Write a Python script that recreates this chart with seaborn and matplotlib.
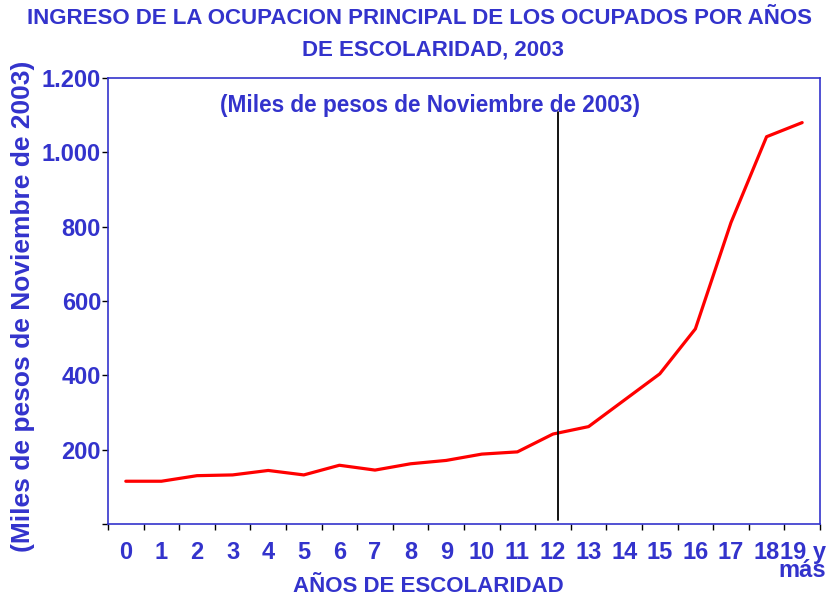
import numpy as np
import pandas as pd
import matplotlib
matplotlib.use("Agg")
import matplotlib.pyplot as plt
import matplotlib.ticker as mtick
import seaborn as sns

# datos
anos = list(range(20))
etiquetas = [str(i) for i in range(19)] + ["19 y\nmás"]
ingreso = [115, 115, 130, 132, 144, 132, 158, 145, 162, 171,
           188, 194, 242, 262, 333, 404, 525, 811, 1042, 1080]
corte_x = 12.15
corte_y = [10, 1108]

azul = "#3333CC"

sns.set_theme(style="white")
plt.rcParams['font.family'] = ['Liberation Sans', 'DejaVu Sans']

df = pd.DataFrame({"anos": anos, "ingreso": ingreso})

fig = plt.figure(figsize=(8.27, 6), dpi=100)
ax = fig.add_axes([0.1306, 0.1267, 0.8609, 0.7433])

sns.lineplot(data=df, x="anos", y="ingreso", color="red", linewidth=2.3, ax=ax)
ax.plot([corte_x, corte_x], corte_y, color="black", linewidth=1.3)

ax.set_xlim(-0.5, 19.5)
ax.set_ylim(0, 1200)

ax.set_xticks(anos)
ax.set_xticklabels(etiquetas)
ax.set_xticks(np.arange(-0.5, 20, 1), minor=True)
ax.tick_params(axis="x", which="major", length=0, pad=12,
               labelsize=17, labelcolor=azul)
ax.tick_params(axis="x", which="minor", length=4, width=1, color="black",
               direction="out", bottom=True)
for lab in ax.get_xticklabels():
    lab.set_fontweight("bold")
    lab.set_verticalalignment("top")
    lab.set_multialignment("right")
    lab.set_linespacing(0.75)

ax.set_yticks(range(0, 1201, 200))
ax.yaxis.set_major_formatter(
    mtick.FuncFormatter(lambda v, p: "" if v == 0 else f"{int(v):,}".replace(",", ".")))
ax.tick_params(axis="y", length=4, width=1, color="black", direction="out",
               left=True, pad=1, labelsize=17, labelcolor=azul)
for lab in ax.get_yticklabels():
    lab.set_fontweight("bold")

for s in ax.spines.values():
    s.set_color(azul)
    s.set_linewidth(1.2)

ax.set_xlabel("")
ax.set_ylabel("(Miles de pesos de Noviembre de 2003)", fontsize=19,
              fontweight="bold", color=azul)
ax.yaxis.set_label_coords(-0.103, 0.487)

ax.text(0.452, 0.939, "(Miles de pesos de Noviembre de 2003)",
        transform=ax.transAxes, ha="center", va="center", fontsize=16.3,
        fontweight="bold", color=azul)

fig.text(0.518, 0.023, "AÑOS DE ESCOLARIDAD", ha="center", va="center",
         fontsize=16, fontweight="bold", color=azul)

fig.text(0.507, 0.97, "INGRESO DE LA OCUPACION PRINCIPAL DE LOS OCUPADOS POR AÑOS",
         ha="center", va="center", fontsize=16, fontweight="bold", color=azul)
fig.text(0.524, 0.917, "DE ESCOLARIDAD, 2003",
         ha="center", va="center", fontsize=16, fontweight="bold", color=azul)

fig.savefig("out.png", dpi=100)
